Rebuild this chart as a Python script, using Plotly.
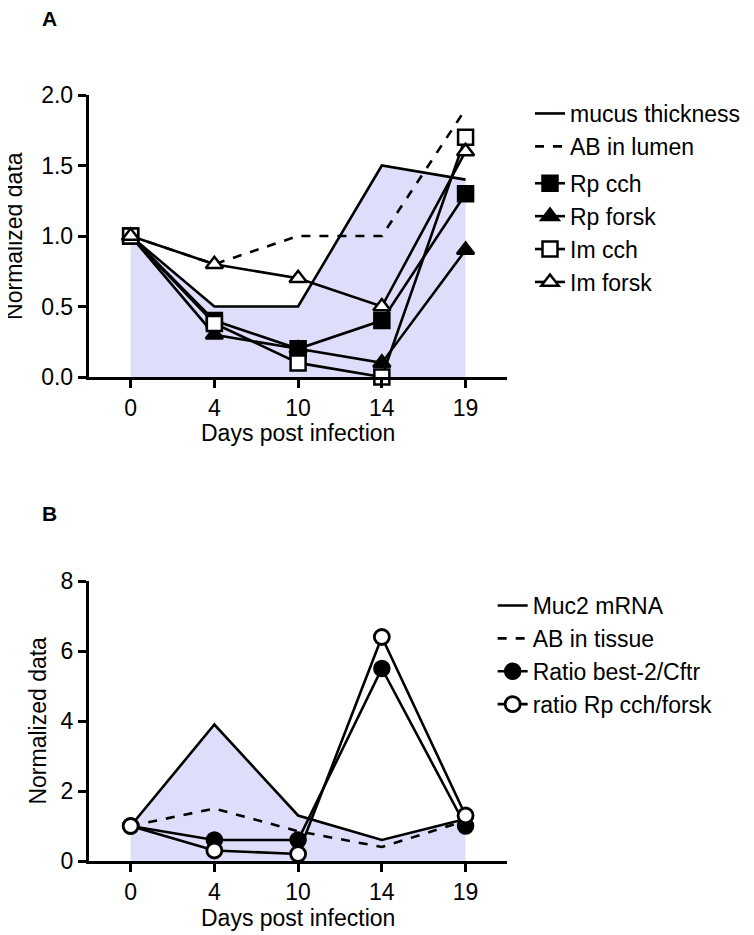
import plotly.graph_objects as go

days = ["0", "4", "10", "14", "19"]

# Panel A
mucus_thickness = [1.0, 0.5, 0.5, 1.5, 1.4]
ab_lumen = [1.0, 0.8, 1.0, 1.0, 1.9]
rp_cch = [1.0, 0.4, 0.2, 0.4, 1.3]
rp_forsk = [1.0, 0.3, 0.2, 0.1, 0.9]
im_cch = [1.0, 0.38, 0.1, 0.0, 1.7]
im_forsk = [1.0, 0.8, 0.7, 0.5, 1.6]

# Panel B
muc2_mrna = [1.0, 3.9, 1.3, 0.6, 1.2]
ab_tissue = [1.0, 1.5, 0.85, 0.4, 1.15]
ratio_best = [1.0, 0.6, 0.6, 5.5, 1.0]
ratio_rp = [1.0, 0.3, 0.2, 6.4, 1.3]

x_title = "Days post infection"
y_title = "Normalized data"

FONT = "Liberation Sans, Arial, sans-serif"
FILL = "rgb(222,222,250)"
LW = 2.6
FS = 23

OFF = 8  # default page body margin
W, H = 754 - 2 * OFF, 935 - OFF


def px(x):
    return (x - OFF) / W


def py(y):
    return 1 - (y - OFF) / H


fig = go.Figure()

# ---- Panel A ----
fig.add_trace(go.Scatter(x=days, y=mucus_thickness, mode="none", fill="tozeroy", fillcolor=FILL,
                         showlegend=False, hoverinfo="skip", xaxis="x", yaxis="y"))
fig.add_trace(go.Scatter(x=days, y=mucus_thickness, name="mucus thickness", mode="lines",
                         line=dict(color="black", width=LW),
                         xaxis="x", yaxis="y", legend="legend", legendgroup="a1"))
fig.add_trace(go.Scatter(x=days, y=ab_lumen, name="AB in lumen", mode="lines",
                         line=dict(color="black", width=LW, dash="dash"),
                         xaxis="x", yaxis="y", legend="legend", legendgroup="a1"))
for name, vals, sym, fillc in [
    ("Rp cch", rp_cch, "square", "black"),
    ("Rp forsk", rp_forsk, "triangle-up", "black"),
    ("Im cch", im_cch, "square", "white"),
    ("Im forsk", im_forsk, "triangle-up", "white"),
]:
    fig.add_trace(go.Scatter(x=days, y=vals, name=name, mode="lines+markers",
                             line=dict(color="black", width=LW),
                             marker=dict(symbol=sym, size=15, color=fillc,
                                         line=dict(color="black", width=2.5)),
                             cliponaxis=False,
                             xaxis="x", yaxis="y", legend="legend", legendgroup="a2"))

# ---- Panel B ----
fig.add_trace(go.Scatter(x=days, y=muc2_mrna, mode="none", fill="tozeroy", fillcolor=FILL,
                         showlegend=False, hoverinfo="skip", xaxis="x2", yaxis="y2"))
fig.add_trace(go.Scatter(x=days, y=muc2_mrna, name="Muc2 mRNA", mode="lines",
                         line=dict(color="black", width=LW),
                         xaxis="x2", yaxis="y2", legend="legend2"))
fig.add_trace(go.Scatter(x=days, y=ab_tissue, name="AB in tissue", mode="lines",
                         line=dict(color="black", width=LW, dash="dash"),
                         xaxis="x2", yaxis="y2", legend="legend2"))
fig.add_trace(go.Scatter(x=days, y=ratio_best, name="Ratio best-2/Cftr", mode="lines+markers",
                         line=dict(color="black", width=LW),
                         marker=dict(symbol="circle", size=15, color="black",
                                     line=dict(color="black", width=2.5)),
                         cliponaxis=False, xaxis="x2", yaxis="y2", legend="legend2"))
fig.add_trace(go.Scatter(x=days, y=ratio_rp, name="ratio Rp cch/forsk", mode="lines+markers",
                         line=dict(color="black", width=LW),
                         marker=dict(symbol="circle", size=15, color="white",
                                     line=dict(color="black", width=2.8)),
                         cliponaxis=False, xaxis="x2", yaxis="y2", legend="legend2"))

xdom = [px(90), px(515)]
axis_common = dict(showline=True, linecolor="black", linewidth=3, ticks="outside",
                   ticklen=8, tickwidth=3, tickcolor="black", showgrid=False, zeroline=False,
                   automargin=False,
                   tickfont=dict(family=FONT, size=FS, color="black"))


def title_ann(text, x, y, angle=0):
    return dict(text=text, x=px(x), y=py(y), xref="paper", yref="paper",
                xanchor="center", yanchor="middle", textangle=angle,
                showarrow=False, font=dict(size=FS, family=FONT, color="black"))


fig.update_layout(
    template="none",
    width=W, height=H, margin=dict(l=0, r=0, t=0, b=0, pad=0), autosize=False,
    paper_bgcolor="white", plot_bgcolor="white",
    font=dict(family=FONT, size=FS, color="black"),
    xaxis=dict(domain=xdom, anchor="y", type="category", range=[-0.5, 4.5], **axis_common),
    yaxis=dict(domain=[py(377), py(95)], anchor="x", range=[0, 2], dtick=0.5,
               tickformat=".1f", **axis_common),
    xaxis2=dict(domain=xdom, anchor="y2", type="category", range=[-0.5, 4.5], **axis_common),
    yaxis2=dict(domain=[py(861), py(581)], anchor="x2", range=[0, 8], dtick=2,
                **axis_common),
    legend=dict(x=px(538), y=py(92), xanchor="left", yanchor="top",
                font=dict(size=FS), tracegroupgap=4, bgcolor="rgba(0,0,0,0)"),
    legend2=dict(x=px(500), y=py(584), xanchor="left", yanchor="top",
                 font=dict(size=FS), bgcolor="rgba(0,0,0,0)"),
    showlegend=True,
    annotations=[
        dict(text="<b>A</b>", x=px(50), y=py(18), xref="paper", yref="paper",
             xanchor="center", yanchor="middle",
             showarrow=False, font=dict(size=21, family=FONT)),
        dict(text="<b>B</b>", x=px(50), y=py(513), xref="paper", yref="paper",
             xanchor="center", yanchor="middle",
             showarrow=False, font=dict(size=21, family=FONT)),
        title_ann(x_title, 302, 433),
        title_ann(x_title, 302, 918),
        title_ann(y_title, 14, 236, -90),
        title_ann(y_title, 38, 721, -90),
    ],
    shapes=[
        dict(type="line", xref="x", xsizemode="pixel", xanchor=-0.5, x0=-8, x1=0,
             yref="y", y0=0, y1=0, line=dict(color="black", width=3)),
        dict(type="line", xref="x2", xsizemode="pixel", xanchor=-0.5, x0=-8, x1=0,
             yref="y2", y0=0, y1=0, line=dict(color="black", width=3)),
    ],
)

fig.write_html("out.html")
